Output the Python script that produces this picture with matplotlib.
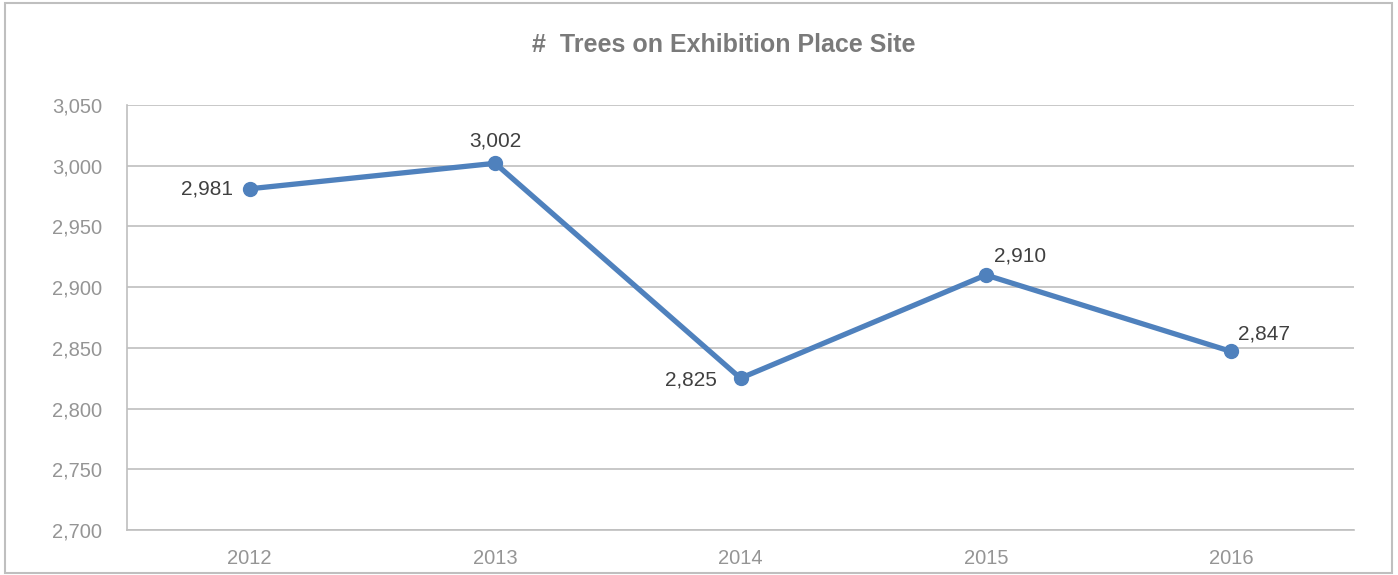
import matplotlib.pyplot as plt
from matplotlib.patches import Rectangle
from matplotlib.ticker import FuncFormatter

years = ["2012", "2013", "2014", "2015", "2016"]
trees = [2981, 3002, 2825, 2910, 2847]
# where each value label sits relative to its point (dx, dy in points, ha, va)
label_pos = [(-12, 0, "right", "center"),
             (0, 9, "center", "bottom"),
             (-17, -1, "right", "center"),
             (6, 7, "left", "bottom"),
             (5, 6, "left", "bottom")]

plt.rcParams['font.family'] = ['Liberation Sans', 'DejaVu Sans']

fig = plt.figure(figsize=(13.98, 5.75), dpi=100)
ax = fig.add_axes([127 / 1398, 1 - 530 / 575, 1227 / 1398, 425 / 575])

# outer chart border
fig.patches.append(Rectangle((5 / 1398, 2 / 575), 1387 / 1398, 570 / 575,
                             transform=fig.transFigure, fill=False,
                             edgecolor="#bfbfbf", linewidth=1.5))

x = range(len(years))
ax.plot(x, trees, color="#4f81bd", linewidth=3.8, marker="o", markersize=10,
        solid_capstyle="round", zorder=3)

for i, v in enumerate(trees):
    dx, dy, ha, va = label_pos[i]
    ax.annotate(f"{v:,}", (i, v), xytext=(dx, dy), textcoords="offset points",
                ha=ha, va=va, fontsize=15, color="#404040")

ax.set_xlim(-0.5, len(years) - 0.5)
ax.set_ylim(2700, 3050)
ax.set_yticks(range(2700, 3051, 50))
ax.yaxis.set_major_formatter(FuncFormatter(lambda v, p: f"{int(v):,}"))
ax.set_xticks(list(x))
ax.set_xticklabels(years)

ax.grid(axis="y", color="#bfbfbf", linewidth=1.2)
ax.set_axisbelow(True)
for s in ["top", "right"]:
    ax.spines[s].set_visible(False)
for s in ["left", "bottom"]:
    ax.spines[s].set_color("#bfbfbf")
    ax.spines[s].set_linewidth(1.2)
ax.tick_params(length=0, labelsize=14.5, colors="#959595")
ax.tick_params(axis="x", pad=14)
ax.tick_params(axis="y", pad=18)

fig.text(724 / 1398, 1 - 45 / 575, "#  Trees on Exhibition Place Site",
         ha="center", va="center", fontsize=18, fontweight="bold",
         color="#7a7a7a")

fig.savefig("out.png", dpi=100)
